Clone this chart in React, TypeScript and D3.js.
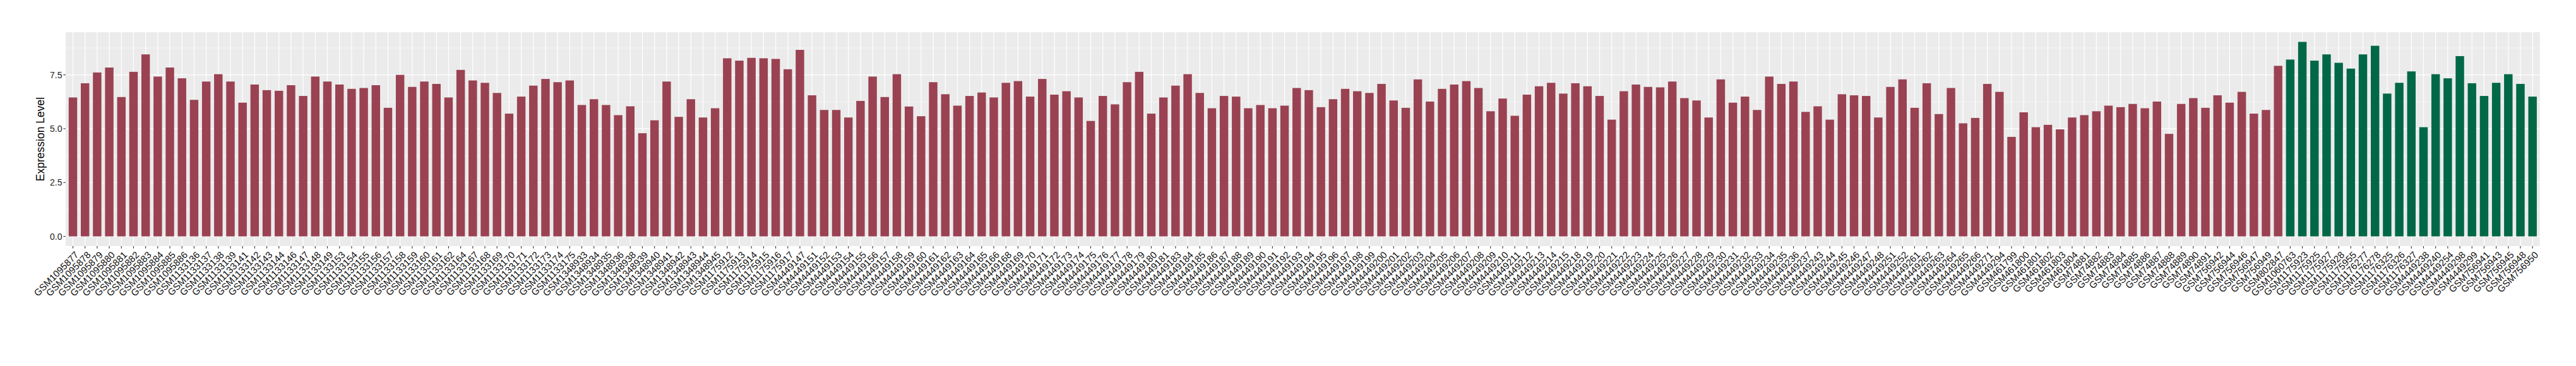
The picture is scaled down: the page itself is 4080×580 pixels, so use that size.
import React from 'react';
import * as d3 from 'd3';

const redSamples = [
  'GSM1095877','GSM1095878','GSM1095879','GSM1095880','GSM1095881','GSM1095882','GSM1095883','GSM1095884','GSM1095885','GSM1095886',
  'GSM1133136','GSM1133137','GSM1133138','GSM1133139','GSM1133141','GSM1133142','GSM1133143','GSM1133144','GSM1133146','GSM1133147',
  'GSM1133148','GSM1133149','GSM1133153','GSM1133154','GSM1133155','GSM1133156','GSM1133157','GSM1133158','GSM1133159','GSM1133160',
  'GSM1133161','GSM1133162','GSM1133164','GSM1133167','GSM1133168','GSM1133169','GSM1133170','GSM1133171','GSM1133172','GSM1133173',
  'GSM1133174','GSM1133175','GSM1348933','GSM1348934','GSM1348935','GSM1348936','GSM1348938','GSM1348939','GSM1348940','GSM1348941',
  'GSM1348942','GSM1348943','GSM1348944','GSM1348945','GSM1175912','GSM1175913','GSM1175914','GSM1175915','GSM1175916','GSM1175917',
  'GSM4449147','GSM4449151','GSM4449152','GSM4449153','GSM4449154','GSM4449155','GSM4449156','GSM4449157','GSM4449158','GSM4449159',
  'GSM4449160','GSM4449161','GSM4449162','GSM4449163','GSM4449164','GSM4449165','GSM4449166','GSM4449168','GSM4449169','GSM4449170',
  'GSM4449171','GSM4449172','GSM4449173','GSM4449174','GSM4449175','GSM4449176','GSM4449177','GSM4449178','GSM4449179','GSM4449180',
  'GSM4449181','GSM4449183','GSM4449184','GSM4449185','GSM4449186','GSM4449187','GSM4449188','GSM4449189','GSM4449190','GSM4449191',
  'GSM4449192','GSM4449193','GSM4449194','GSM4449195','GSM4449196','GSM4449197','GSM4449198','GSM4449199','GSM4449200','GSM4449201',
  'GSM4449202','GSM4449203','GSM4449204','GSM4449205','GSM4449206','GSM4449207','GSM4449208','GSM4449209','GSM4449210','GSM4449211',
  'GSM4449212','GSM4449213','GSM4449214','GSM4449215','GSM4449218','GSM4449219','GSM4449220','GSM4449221','GSM4449222','GSM4449223',
  'GSM4449224','GSM4449225','GSM4449226','GSM4449227','GSM4449228','GSM4449229','GSM4449230','GSM4449231','GSM4449232','GSM4449233',
  'GSM4449234','GSM4449235','GSM4449236','GSM4449237','GSM4449243','GSM4449244','GSM4449245','GSM4449246','GSM4449247','GSM4449248',
  'GSM4449251','GSM4449252','GSM4449261','GSM4449262','GSM4449263','GSM4449264','GSM4449265','GSM4449266','GSM4449271','GSM4449294',
  'GSM461799','GSM461800','GSM461801','GSM461802','GSM461803','GSM461804','GSM74881','GSM74882','GSM74883','GSM74884',
  'GSM74885','GSM74886','GSM74887','GSM74888','GSM74889','GSM74890','GSM74891','GSM756942','GSM756944','GSM756946',
  'GSM756947','GSM756949','GSM802847'
];

const redValues = [
  6.45, 7.11, 7.61, 7.84, 6.47, 7.64, 8.45, 7.42, 7.84, 7.34,
  6.34, 7.19, 7.53, 7.19, 6.21, 7.05, 6.79, 6.76, 7.02, 6.52,
  7.42, 7.19, 7.05, 6.85, 6.89, 7.02, 5.97, 7.50, 6.94, 7.19,
  7.08, 6.45, 7.73, 7.24, 7.13, 6.66, 5.70, 6.49, 7.00, 7.31,
  7.16, 7.24, 6.10, 6.37, 6.10, 5.63, 6.04, 4.79, 5.39, 7.19,
  5.55, 6.37, 5.52, 5.95, 8.27, 8.16, 8.29, 8.27, 8.24, 7.76,
  8.66, 6.55, 5.87, 5.87, 5.52, 6.29, 7.42, 6.47, 7.53, 6.03,
  5.58, 7.16, 6.60, 6.07, 6.52, 6.68, 6.45, 7.13, 7.21, 6.49,
  7.31, 6.58, 6.74, 6.45, 5.36, 6.52, 6.13, 7.16, 7.64, 5.70,
  6.45, 7.00, 7.53, 6.66, 5.95, 6.52, 6.49, 5.95, 6.10, 5.95,
  6.07, 6.89, 6.79, 6.00, 6.37, 6.85, 6.74, 6.66, 7.08, 6.31,
  5.97, 7.29, 6.26, 6.85, 7.05, 7.21, 6.89, 5.81, 6.40, 5.60,
  6.58, 6.97, 7.13, 6.63, 7.11, 6.97, 6.52, 5.42, 6.74, 7.05,
  6.94, 6.92, 7.19, 6.42, 6.31, 5.52, 7.29, 6.21, 6.49, 5.87,
  7.42, 7.08, 7.19, 5.78, 6.04, 5.42, 6.60, 6.55, 6.52, 5.52,
  6.94, 7.29, 5.97, 7.11, 5.68, 6.89, 5.25, 5.50, 7.08, 6.71,
  4.62, 5.76, 5.07, 5.18, 4.97, 5.52, 5.63, 5.81, 6.07, 6.00,
  6.15, 5.95, 6.26, 4.76, 6.15, 6.42, 5.97, 6.55, 6.21, 6.71,
  5.70, 5.87, 7.92
];

const greenSamples = [
  'GSM1060763','GSM1175923','GSM1175925','GSM1175927','GSM1175928','GSM1175955','GSM1176277','GSM1176278','GSM1176325','GSM1176326',
  'GSM1176327','GSM4449238','GSM4449240','GSM4449254','GSM4449298','GSM4449299','GSM756941','GSM756943','GSM756945','GSM756948',
  'GSM756950'
];

const greenValues = [
  8.21, 9.03, 8.16, 8.45, 8.06, 7.79, 8.45, 8.85, 6.63, 7.13,
  7.66, 5.07, 7.53, 7.34, 8.37, 7.11, 6.52, 7.13, 7.53, 7.08,
  6.49
];

const yTicks = [0, 2.5, 5, 7.5];
const yMinorTicks = [1.25, 3.75, 6.25, 8.75];
const yTitle = 'Expression Level';

const RED = '#9A4252';
const GREEN = '#006847';
const FONT = '"Liberation Sans", Arial, Helvetica, sans-serif';

export default function App() {
  const W = 4080;
  const H = 580;
  const panel = { left: 104, right: 4022.7, top: 51, bottom: 390 };

  const data = [
    ...redSamples.map((s, i) => ({ s, v: redValues[i], c: RED })),
    ...greenSamples.map((s, i) => ({ s, v: greenValues[i], c: GREEN })),
  ];

  const x = d3
    .scaleBand<string>()
    .domain(data.map((d) => d.s))
    .range([panel.left, panel.right])
    .paddingInner(0.3)
    .paddingOuter(0.25);
  const bw = x.bandwidth();
  const cx = (s: string) => (x(s) as number) + bw / 2;

  const maxV = d3.max(data, (d) => d.v) as number;
  const y = d3
    .scaleLinear()
    .domain([-0.05 * maxV, maxV * 1.05])
    .range([panel.bottom, panel.top]);

  return (
    <svg
      width={W}
      height={H}
      style={{ position: 'absolute', left: 0, top: 0, background: '#fff' }}
      fontFamily={FONT}
    >
      <rect
        x={panel.left}
        y={panel.top}
        width={panel.right - panel.left}
        height={panel.bottom - panel.top}
        fill="#EBEBEB"
      />
      {yMinorTicks.map((t) => (
        <line key={'mn' + t} x1={panel.left} x2={panel.right} y1={y(t)} y2={y(t)} stroke="#fff" strokeWidth={0.6} />
      ))}
      {yTicks.map((t) => (
        <line key={'mj' + t} x1={panel.left} x2={panel.right} y1={y(t)} y2={y(t)} stroke="#fff" strokeWidth={1.2} />
      ))}
      {data.map((d) => (
        <line key={'vg' + d.s} x1={cx(d.s)} x2={cx(d.s)} y1={panel.top} y2={panel.bottom} stroke="#fff" strokeWidth={1.2} />
      ))}
      {data.map((d) => (
        <rect key={'b' + d.s} x={x(d.s)} y={y(d.v)} width={bw} height={y(0) - y(d.v)} fill={d.c} />
      ))}
      {yTicks.map((t) => (
        <g key={'yt' + t}>
          <line x1={panel.left - 3.7} x2={panel.left} y1={y(t)} y2={y(t)} stroke="#333" strokeWidth={1.1} />
          <text x={panel.left - 5.5} y={y(t)} textAnchor="end" dominantBaseline="central" fontSize={14} fill="#1a1a1a">
            {t.toFixed(1)}
          </text>
        </g>
      ))}
      {data.map((d) => (
        <g key={'xt' + d.s}>
          <line x1={cx(d.s)} x2={cx(d.s)} y1={panel.bottom} y2={panel.bottom + 3.7} stroke="#333" strokeWidth={1.1} />
          <text
            transform={`translate(${cx(d.s) + 2},${panel.bottom + 7}) rotate(-45)`}
            textAnchor="end"
            dominantBaseline="hanging"
            fontSize={15}
            fill="#111"
          >
            {d.s}
          </text>
        </g>
      ))}
      <text
        transform={`translate(70,${(panel.top + panel.bottom) / 2}) rotate(-90)`}
        textAnchor="middle"
        fontSize={17.5}
        fill="#000"
      >
        {yTitle}
      </text>
    </svg>
  );
}
